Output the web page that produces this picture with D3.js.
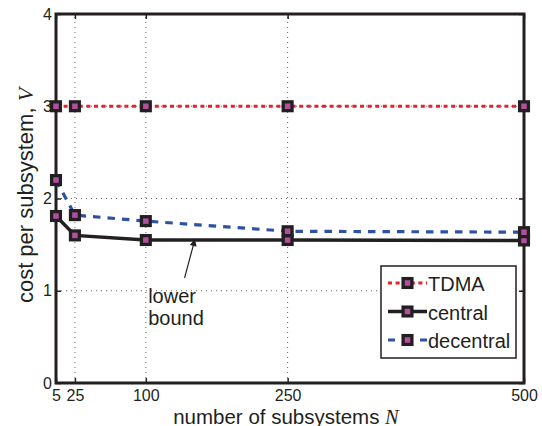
<!DOCTYPE html>
<html><head><meta charset="utf-8">
<script src="https://cdn.jsdelivr.net/npm/d3@7"></script>
<style>body{margin:0;background:#fff}svg{display:block}</style>
</head><body>
<svg id="c" width="542" height="426"></svg>
<script>
const N = [5, 25, 100, 250, 500];
const tdma = [3, 3, 3, 3, 3];
const central = [1.81, 1.60, 1.55, 1.55, 1.545];
const decentral = [2.20, 1.82, 1.755, 1.645, 1.635];
const xTicks = [5, 25, 100, 250, 500];
const yTicks = [0, 1, 2, 3, 4];
const seriesNames = ["TDMA", "central", "decentral"];

const W = 542, H = 426;
const m = {l: 56, r: 18, t: 14, b: 43};
const svg = d3.select("#c");
const x = d3.scaleLinear().domain([5, 500]).range([m.l, W - m.r]);
const y = d3.scaleLinear().domain([0, 4]).range([H - m.b, m.t]);
const ink = "#231f20", mag = "#b0509f";
const font = "'Liberation Sans', Arial, Helvetica, sans-serif";

// grid
const g = svg.append("g");
g.selectAll(".gx").data(xTicks.slice(1, -1)).join("line")
  .attr("x1", d => x(d)).attr("x2", d => x(d)).attr("y1", y(0)).attr("y2", y(4))
  .attr("stroke", "#666").attr("stroke-width", 1).attr("stroke-dasharray", "1,4");
g.selectAll(".gy").data(yTicks.slice(1, -1)).join("line")
  .attr("y1", d => y(d)).attr("y2", d => y(d)).attr("x1", x(5)).attr("x2", x(500))
  .attr("stroke", "#666").attr("stroke-width", 1).attr("stroke-dasharray", "1,4");

// axes (inward ticks on all sides)
const ax = (gen, tr) => svg.append("g").attr("transform", tr).call(gen)
  .call(s => { s.select(".domain").remove(); s.selectAll("line").attr("stroke", ink).attr("stroke-width", 1.5);
    s.selectAll("text").attr("font-family", font).attr("font-size", 16).attr("fill", ink); });
ax(d3.axisBottom(x).tickValues(xTicks).tickSize(-5).tickPadding(7).tickFormat(d3.format("d")), `translate(0,${y(0)})`);
ax(d3.axisTop(x).tickValues(xTicks).tickSize(-5).tickFormat(""), `translate(0,${y(4)})`);
ax(d3.axisLeft(y).tickValues(yTicks).tickSize(-5).tickPadding(4).tickFormat(d3.format("d")), `translate(${x(5)},0)`);
ax(d3.axisRight(y).tickValues(yTicks).tickSize(-5).tickFormat(""), `translate(${x(500)},0)`);
svg.append("rect").attr("x", x(5)).attr("y", y(4)).attr("width", x(500) - x(5)).attr("height", y(0) - y(4))
  .attr("fill", "none").attr("stroke", ink).attr("stroke-width", 3);

// series
const styles = [
  {color: "#e8202a", dash: "4,3.6", w: 3},
  {color: ink, dash: null, w: 3.5},
  {color: "#2f51a3", dash: "7.5,7", w: 3.2}
];
const data = [tdma, central, decentral];
const line = d3.line().x((d, i) => x(N[i])).y(d => y(d));
const ms = 8.8, mw = 3.3;
function marker(sel, cx, cy) {
  sel.append("rect").attr("x", cx - ms / 2).attr("y", cy - ms / 2).attr("width", ms).attr("height", ms)
    .attr("fill", mag).attr("stroke", ink).attr("stroke-width", mw);
}
data.forEach((vals, k) => {
  const s = styles[k];
  const gs = svg.append("g");
  gs.append("path").datum(vals).attr("d", line).attr("fill", "none")
    .attr("stroke", s.color).attr("stroke-width", s.w).attr("stroke-dasharray", s.dash);
  vals.forEach((v, i) => marker(gs, x(N[i]), y(v)));
});

// annotation
const tail = [141, 1.14], tip = [152, 1.56];
svg.append("defs").append("marker").attr("id", "ah").attr("viewBox", "0 0 10 10")
  .attr("refX", 10).attr("refY", 5).attr("markerWidth", 9).attr("markerHeight", 7)
  .attr("markerUnits", "userSpaceOnUse").attr("orient", "auto")
  .append("path").attr("d", "M0,0L10,5L0,10z").attr("fill", ink);
svg.append("line").attr("x1", x(tail[0])).attr("y1", y(tail[1])).attr("x2", x(tip[0])).attr("y2", y(tip[1]))
  .attr("stroke", ink).attr("stroke-width", 1.2).attr("marker-end", "url(#ah)");
const ann = svg.append("text").attr("font-family", font).attr("font-size", 20).attr("fill", ink);
ann.append("tspan").attr("x", x(102.5)).attr("y", 303).text("lower");
ann.append("tspan").attr("x", x(102.5)).attr("y", 325).text("bound");

// legend
const lg = svg.append("g");
lg.append("rect").attr("x", 381).attr("y", 266).attr("width", 135).attr("height", 92)
  .attr("fill", "#fff").attr("stroke", ink).attr("stroke-width", 1.5);
const legDash = ["4,3.6", null, "7,25"];
seriesNames.forEach((nm, k) => {
  const s = styles[k], yy = 283 + k * 28.5;
  lg.append("line").attr("x1", 388).attr("x2", 427).attr("y1", yy).attr("y2", yy)
    .attr("stroke", s.color).attr("stroke-width", s.w).attr("stroke-dasharray", legDash[k]);
  marker(lg, 407.5, yy);
  lg.append("text").attr("x", 428).attr("y", yy + 8).attr("font-family", font).attr("font-size", 20)
    .attr("fill", ink).text(nm);
});

// axis labels
const xl = svg.append("text").attr("x", (x(5) + x(500)) / 2 - 4).attr("y", 423.5).attr("text-anchor", "middle")
  .attr("font-family", font).attr("font-size", 20.5).attr("fill", ink);
xl.append("tspan").text("number of subsystems ");
xl.append("tspan").attr("font-family", "'Liberation Serif', 'Times New Roman', serif").attr("font-style", "italic").text("N");
const yl = svg.append("text").attr("transform", `translate(33,${(y(0) + y(4)) / 2 - 3}) rotate(-90)`)
  .attr("text-anchor", "middle").attr("font-family", font).attr("font-size", 22).attr("fill", ink);
yl.append("tspan").text("cost per subsystem, ");
yl.append("tspan").attr("font-family", "'Liberation Serif', 'Times New Roman', serif").attr("font-style", "italic").text("V");
</script>
</body></html>
